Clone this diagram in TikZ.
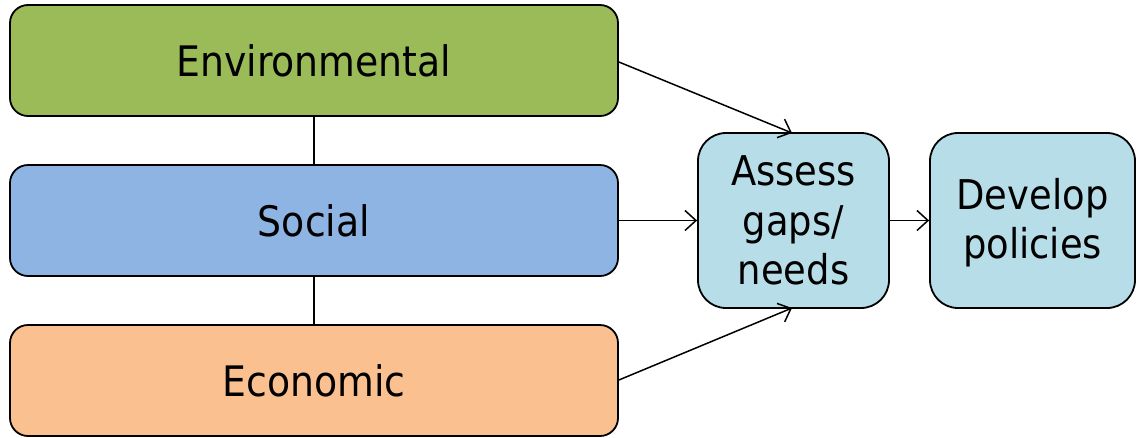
\documentclass[tikz,border=0pt]{standalone}
\usepackage{fontspec}
\setmainfont{DejaVu Sans Condensed}
\usetikzlibrary{arrows.meta}
\definecolor{envgreen}{HTML}{9BBB59}
\definecolor{socblue}{HTML}{8EB4E3}
\definecolor{ecoorange}{HTML}{FAC090}
\definecolor{lightcyan}{HTML}{B7DEE8}
\tikzset{
  wide/.style={draw=black, line width=1.8pt, rounded corners=18pt, minimum width=608pt, minimum height=111pt, inner sep=0pt, font=\fontsize{42}{49}\selectfont},
  small/.style={draw=black, line width=1.8pt, rounded corners=28pt, minimum height=175pt, inner sep=0pt, align=center, fill=lightcyan, font=\fontsize{41}{49.5}\selectfont},
  conn/.style={line width=1.5pt},
  arr/.style={line width=1.5pt, -{Straight Barb[length=11pt, width=20pt, line width=1.5pt]}}
}
\begin{document}
\begin{tikzpicture}[x=1pt,y=1pt]
\useasboundingbox (0,0) rectangle (1136,-437);
\node[wide, fill=envgreen] (env) at (314,-60.5) {Environmental};
\node[wide, fill=socblue] (soc) at (314,-220.5) {Social};
\node[wide, fill=ecoorange] (eco) at (314,-380.5) {Economic};
\node[small, minimum width=191pt] (ass) at (793.5,-220.5) {Assess\\gaps/\\needs};
\node[small, minimum width=205pt, text depth=4pt] (dev) at (1032.5,-220.5) {Develop\\policies};
\draw[conn] (env.south) -- (soc.north);
\draw[conn] (soc.south) -- (eco.north);
\coordinate (atop) at (792,-133);
\coordinate (abot) at (792,-308);
\draw[arr] (env.east |- 0,-62) -- (atop);
\draw[arr] (soc.east) -- (ass.west);
\draw[arr] (eco.east |- 0,-380) -- (abot);
\draw[arr] (ass.east) -- (dev.west);
\end{tikzpicture}
\end{document}
